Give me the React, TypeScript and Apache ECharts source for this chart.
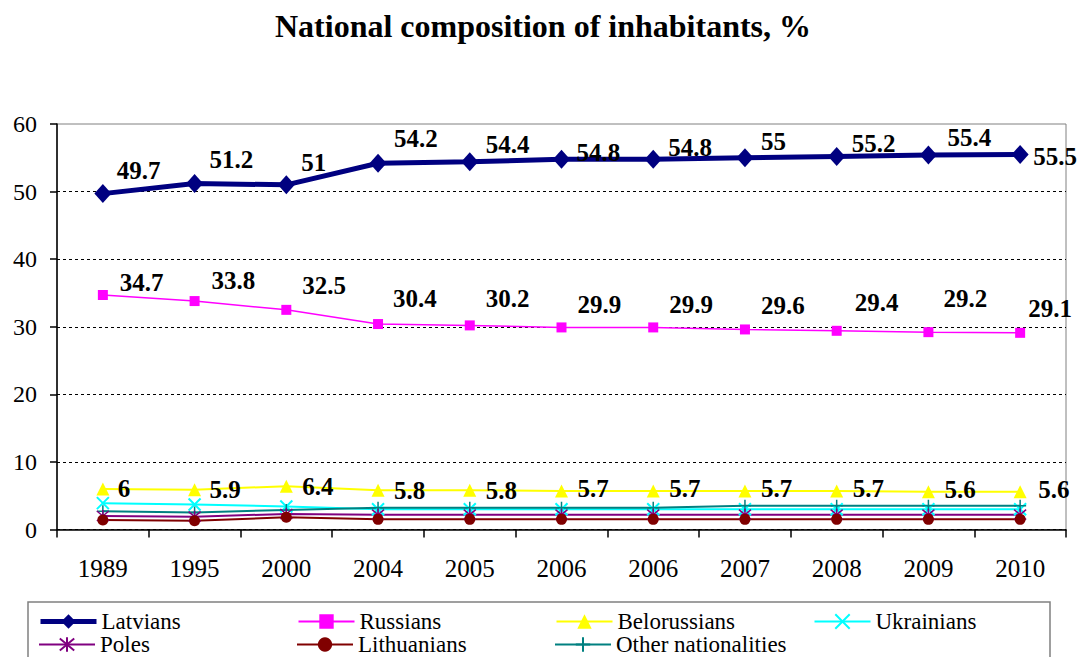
import React, { useEffect, useRef } from 'react';
import * as echarts from 'echarts';

const CATEGORIES = ['1989', '1995', '2000', '2004', '2005', '2006', '2006', '2007', '2008', '2009', '2010'];
const LATVIANS = [49.7, 51.2, 51, 54.2, 54.4, 54.8, 54.8, 55, 55.2, 55.4, 55.5];
const RUSSIANS = [34.7, 33.8, 32.5, 30.4, 30.2, 29.9, 29.9, 29.6, 29.4, 29.2, 29.1];
const BELORUSSIANS = [6, 5.9, 6.4, 5.8, 5.8, 5.7, 5.7, 5.7, 5.7, 5.6, 5.6];
const UKRAINIANS = [3.9, 3.7, 3.4, 3.0, 3.0, 3.0, 3.0, 3.0, 3.0, 3.0, 3.0];
const POLES = [2.0, 1.9, 2.3, 2.2, 2.2, 2.2, 2.2, 2.2, 2.2, 2.2, 2.2];
const LITHUANIANS = [1.4, 1.3, 1.8, 1.5, 1.5, 1.5, 1.5, 1.5, 1.5, 1.5, 1.5];
const OTHERS = [2.7, 2.5, 2.9, 3.2, 3.2, 3.2, 3.2, 3.5, 3.5, 3.5, 3.5];

// label placement (style only, pixel offsets from each point)
const LATVIAN_LABEL_DX = [14, 15, 15, 16, 16, 15, 15, 16, 15, 19, 13];
const LATVIAN_LABEL_DY = [-23, -24, -22, -25, -17, -7, -12, -16, -13, -18, 2];
const RUSSIAN_LABEL_DX = [17, 17, 16, 15, 16, 16, 16, 16, 18, 15, 8];
const RUSSIAN_LABEL_DY = [-12, -21, -24, -26, -27, -23, -23, -24, -28, -34, -24];
const BELO_LABEL_DX = [15, 15, 16, 16, 16, 16, 16, 16, 16, 16, 18];
const BELO_LABEL_DY = [0, 0, 0, 0, 0, -2, -2, -2, -2, -2, -2];

const FONT = 'Liberation Serif';

const X_PATH = 'path://M0,0L10,10M10,0L0,10';
const STAR_PATH = 'path://M0,0L10,10M10,0L0,10M5,-1L5,11';
const PLUS_PATH = 'path://M5,0L5,10M0,5L10,5';

function labeledData(values: number[], dx: number[], dy: number[]) {
  return values.map((v, i) => ({ value: v, label: { offset: [dx[i], dy[i]] } }));
}

const dataLabel = {
  show: true,
  position: 'inside',
  align: 'left',
  verticalAlign: 'middle',
  fontFamily: FONT,
  fontSize: 25,
  fontWeight: 'bold',
  color: '#000',
};

const legendText = { fontFamily: FONT, fontSize: 23, color: '#000', width: 176, lineHeight: 23 };

export default function App() {
  const ref = useRef<HTMLDivElement>(null);
  useEffect(() => {
    document.body.style.margin = '0';
    const chart = echarts.init(ref.current!, null, { renderer: 'svg' });
    const option: any = {
      animation: false,
      backgroundColor: '#fff',
      textStyle: { fontFamily: FONT },
      title: {
        text: 'National composition of inhabitants, %',
        left: 538,
        top: 5,
        textAlign: 'center',
        textStyle: { fontFamily: FONT, fontSize: 32, fontWeight: 'bold', color: '#000' },
      },
      grid: {
        left: 57,
        right: 19,
        top: 124,
        bottom: 127.5,
        show: true,
        borderColor: '#808080',
        borderWidth: 1,
      },
      legend: [
        {
          data: [
            { name: 'Latvians', lineStyle: { width: 5 } },
            'Russians',
            'Belorussians',
            'Ukrainians',
          ],
          left: 38,
          top: 610,
          orient: 'horizontal',
          itemWidth: 56,
          itemHeight: 18,
          itemGap: 20,
          padding: 0,
          selectedMode: false,
          textStyle: legendText,
        },
        {
          data: ['Poles', 'Lithuanians', 'Other nationalities'],
          left: 38,
          top: 633,
          orient: 'horizontal',
          itemWidth: 56,
          itemHeight: 18,
          itemGap: 20,
          padding: 0,
          selectedMode: false,
          textStyle: legendText,
        },
      ],
      graphic: [
        {
          type: 'rect',
          shape: { x: 28, y: 602, width: 1022, height: 70 },
          style: { fill: 'none', stroke: '#808080', lineWidth: 1.5 },
          silent: true,
        },
      ],
      xAxis: {
        type: 'category',
        data: CATEGORIES,
        boundaryGap: true,
        axisLine: { lineStyle: { color: '#000', width: 1.5 } },
        axisTick: { show: true, length: 8, interval: 0, lineStyle: { color: '#000', width: 1.5 } },
        axisLabel: { interval: 0, fontFamily: FONT, fontSize: 25, color: '#000', margin: 26 },
        splitLine: { show: false },
      },
      yAxis: {
        type: 'value',
        min: 0,
        max: 60,
        interval: 10,
        axisLine: { show: true, lineStyle: { color: '#000', width: 1.5 } },
        axisTick: { show: true, length: 7, lineStyle: { color: '#000', width: 1.5 } },
        axisLabel: { fontFamily: FONT, fontSize: 24, color: '#000', margin: 20 },
        splitLine: {
          show: true,
          showMaxLine: false,
          lineStyle: { color: '#000', width: 1, type: [3, 3] },
        },
      },
      series: [
        {
          name: 'Belorussians',
          type: 'line',
          data: labeledData(BELORUSSIANS, BELO_LABEL_DX, BELO_LABEL_DY),
          symbol: 'triangle',
          symbolSize: 13,
          lineStyle: { color: '#FFFF00', width: 2 },
          itemStyle: { color: '#FFFF00' },
          label: dataLabel,
          z: 3,
        },
        {
          name: 'Ukrainians',
          type: 'line',
          data: UKRAINIANS,
          symbol: X_PATH,
          symbolSize: 12,
          lineStyle: { color: '#00FFFF', width: 2 },
          itemStyle: { color: '#00FFFF', borderColor: '#00FFFF', borderWidth: 2 },
          z: 2,
        },
        {
          name: 'Other nationalities',
          type: 'line',
          data: OTHERS,
          symbol: PLUS_PATH,
          symbolSize: 12,
          lineStyle: { color: '#008080', width: 2 },
          itemStyle: { color: '#008080', borderColor: '#008080', borderWidth: 1.5 },
          z: 2,
        },
        {
          name: 'Poles',
          type: 'line',
          data: POLES,
          symbol: STAR_PATH,
          symbolSize: 12,
          lineStyle: { color: '#800080', width: 2 },
          itemStyle: { color: '#800080', borderColor: '#800080', borderWidth: 1.5 },
          z: 2,
        },
        {
          name: 'Lithuanians',
          type: 'line',
          data: LITHUANIANS,
          symbol: 'circle',
          symbolSize: 11,
          lineStyle: { color: '#800000', width: 2 },
          itemStyle: { color: '#800000' },
          z: 2,
        },
        {
          name: 'Russians',
          type: 'line',
          data: labeledData(RUSSIANS, RUSSIAN_LABEL_DX, RUSSIAN_LABEL_DY),
          symbol: 'rect',
          symbolSize: 10,
          lineStyle: { color: '#FF00FF', width: 1.5 },
          itemStyle: { color: '#FF00FF' },
          label: dataLabel,
          z: 3,
        },
        {
          name: 'Latvians',
          type: 'line',
          data: labeledData(LATVIANS, LATVIAN_LABEL_DX, LATVIAN_LABEL_DY),
          symbol: 'diamond',
          symbolSize: [17, 19],
          lineStyle: { color: '#000080', width: 5 },
          itemStyle: { color: '#000080' },
          label: dataLabel,
          z: 4,
        },
      ],
    };
    chart.setOption(option);
    return () => chart.dispose();
  }, []);
  return <div ref={ref} style={{ width: 1085, height: 657 }} />;
}
